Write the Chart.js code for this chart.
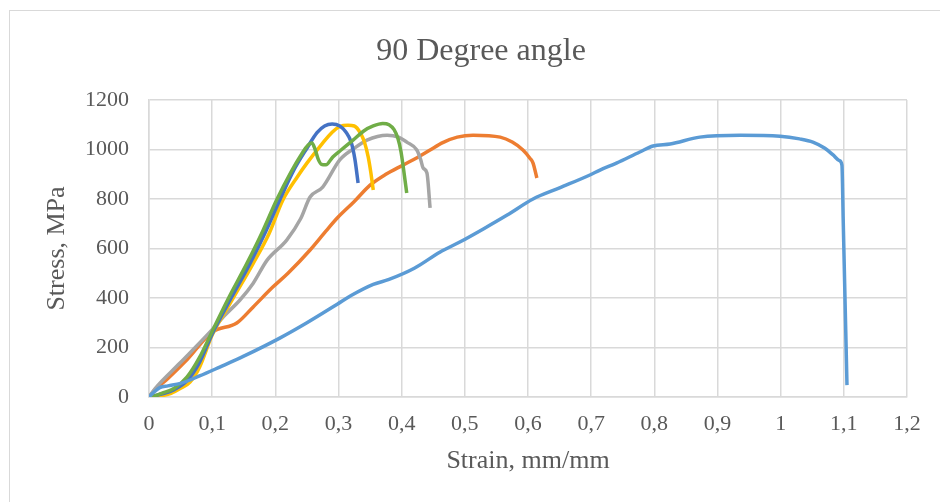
<!DOCTYPE html>
<html><head><meta charset="utf-8">
<script src="https://cdn.jsdelivr.net/npm/chart.js@4"></script>
<style>
html,body{margin:0;padding:0;background:#fff;}
#wrap{position:relative;width:940px;height:502px;overflow:hidden;background:#fff;}
#frame{position:absolute;left:9px;top:10px;width:960px;height:520px;border:1.5px solid #d9d9d9;box-sizing:border-box;}
canvas{position:absolute;left:0;top:0;}
</style></head><body>
<div id="wrap"><div id="frame"></div><canvas id="c" width="940" height="502"></canvas></div>
<script>
const chartTitle = '90 Degree angle';
const xAxisTitle = 'Strain, mm/mm';
const yAxisTitle = 'Stress, MPa';
const xTickLabels = ['0','0,1','0,2','0,3','0,4','0,5','0,6','0,7','0,8','0,9','1','1,1','1,2'];
const yTickLabels = ['0','200','400','600','800','1000','1200'];
const seriesNames = ['Sample 1','Sample 2','Sample 3','Sample 4','Sample 5','Sample 6'];

// [strain, stress]
const sample1 = [[0,0],[0.008,20],[0.017,38],[0.03,45],[0.05,55],[0.08,85],[0.112,121],[0.15,165],[0.207,238],[0.25,300],[0.298,375],[0.32,410],[0.355,455],[0.38,475],[0.42,520],[0.461,586],[0.492,626],[0.53,680],[0.567,735],[0.608,800],[0.65,845],[0.698,897],[0.714,917],[0.74,945],[0.777,990],[0.798,1014],[0.825,1022],[0.872,1050],[0.936,1058],[0.999,1054],[1.03,1043],[1.051,1030],[1.07,1005],[1.083,978],[1.093,955],[1.097,937],[1.099,715],[1.105,48]];
const sample2 = [[0,0],[0.01,30],[0.03,75],[0.06,150],[0.1,262],[0.139,299],[0.165,364],[0.196,444],[0.22,500],[0.255,594],[0.28,670],[0.298,723],[0.325,790],[0.35,856],[0.375,900],[0.402,937],[0.425,968],[0.445,998],[0.465,1028],[0.488,1050],[0.513,1058],[0.556,1050],[0.575,1030],[0.592,998],[0.603,965],[0.608,945],[0.614,885]];
const sample3 = [[0,0],[0.01,35],[0.049,137],[0.1,272],[0.12,330],[0.144,392],[0.165,460],[0.187,553],[0.218,634],[0.24,720],[0.255,808],[0.275,848],[0.302,958],[0.325,1005],[0.345,1038],[0.377,1058],[0.395,1050],[0.408,1030],[0.424,998],[0.43,960],[0.434,925],[0.44,905],[0.445,764]];
const sample4 = [[0,0],[0.02,5],[0.035,15],[0.05,35],[0.065,60],[0.08,120],[0.1,250],[0.13,385],[0.165,540],[0.19,660],[0.212,796],[0.235,890],[0.25,945],[0.273,1020],[0.29,1070],[0.302,1093],[0.315,1098],[0.325,1095],[0.335,1065],[0.341,1030],[0.347,970],[0.351,910],[0.355,836]];
const sample5 = [[0,0],[0.02,12],[0.04,30],[0.06,65],[0.08,140],[0.1,255],[0.13,400],[0.16,540],[0.185,670],[0.207,796],[0.23,920],[0.25,1005],[0.266,1068],[0.278,1095],[0.29,1103],[0.302,1095],[0.312,1070],[0.32,1030],[0.326,960],[0.331,865]];
const sample6 = [[0,0],[0.01,5],[0.02,15],[0.04,35],[0.06,80],[0.08,160],[0.1,265],[0.125,395],[0.155,540],[0.18,670],[0.202,796],[0.225,910],[0.24,975],[0.252,1018],[0.258,1026],[0.263,1000],[0.268,960],[0.273,940],[0.28,938],[0.291,970],[0.305,1000],[0.323,1038],[0.34,1075],[0.355,1095],[0.37,1105],[0.38,1100],[0.388,1080],[0.394,1045],[0.399,990],[0.403,920],[0.408,824]];

const seriesData = [sample1, sample6, sample5, sample4, sample3, sample2];
const seriesLabels = [seriesNames[0], seriesNames[5], seriesNames[4], seriesNames[3], seriesNames[2], seriesNames[1]];
const seriesColors = ['#5B9BD5','#70AD47','#4472C4','#FFC000','#A5A5A5','#ED7D31'];

const FONT = '"Liberation Serif", "Times New Roman", serif';
const TEXT = '#595959';
const GRID = '#d9d9d9';

const titlePlugin = {
  id: 'customTitle',
  afterDraw(chart) {
    const ctx = chart.ctx;
    ctx.save();
    ctx.font = '32px ' + FONT;
    ctx.fillStyle = TEXT;
    ctx.textAlign = 'center';
    ctx.textBaseline = 'middle';
    ctx.fillText(chartTitle, 481, 52);
    ctx.restore();
  }
};

new Chart(document.getElementById('c'), {
  type: 'scatter',
  data: {
    datasets: seriesData.map((d, i) => ({
      label: seriesLabels[i],
      data: d.map(p => ({x: p[0], y: p[1]})),
      showLine: true,
      borderColor: seriesColors[i],
      backgroundColor: seriesColors[i],
      borderWidth: 3.5,
      pointRadius: 0,
      cubicInterpolationMode: 'monotone',
      fill: false
    }))
  },
  options: {
    responsive: false,
    animation: false,
    layout: { padding: { left: 10, right: 33, top: 100, bottom: 0 } },
    plugins: { legend: { display: false }, title: { display: false }, tooltip: { enabled: false } },
    scales: {
      x: {
        type: 'linear', min: 0, max: 1.2,
        ticks: { stepSize: 0.1, autoSkip: false, maxRotation: 0, padding: 14, color: TEXT,
          font: { family: FONT, size: 22 }, callback: (v, i) => xTickLabels[i] },
        grid: { color: GRID, lineWidth: 1.5, drawTicks: false },
        border: { color: GRID, width: 1.5 },
        title: { display: true, text: xAxisTitle, color: TEXT, font: { family: FONT, size: 26 }, padding: { top: 0, bottom: 25 } },
        afterFit(s) { s.height = 105; }
      },
      y: {
        type: 'linear', min: 0, max: 1200,
        ticks: { stepSize: 200, padding: 20, color: TEXT, font: { family: FONT, size: 22 },
          callback: (v, i) => yTickLabels[i] },
        grid: { color: GRID, lineWidth: 1.5, drawTicks: false },
        border: { color: GRID, width: 1.5 },
        title: { display: true, text: yAxisTitle, color: TEXT, font: { family: FONT, size: 26 }, padding: { top: 32, bottom: 0 } },
        afterFit(s) { s.width = 139; }
      }
    }
  },
  plugins: [titlePlugin]
});
</script>
</body></html>
